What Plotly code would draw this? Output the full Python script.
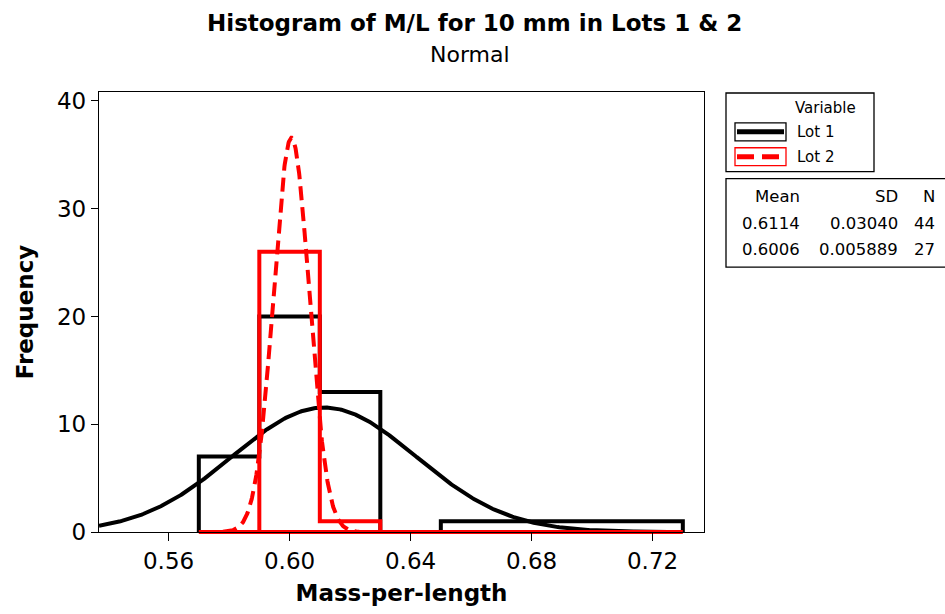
import numpy as np
import plotly.graph_objects as go

# ---------------- data ----------------
bin_edges = [0.57, 0.59, 0.61, 0.63, 0.65, 0.67, 0.69, 0.71, 0.73]
lot1_counts = [7, 20, 13, 0, 1, 1, 1, 1]
lot2_counts = [0, 26, 1, 0, 0, 0, 0, 0]
lot_names = ["Lot 1", "Lot 2"]
lot_means = [0.6114, 0.6006]
lot_sds = [0.03040, 0.005889]
lot_ns = [44, 27]
mean_labels = ["0.6114", "0.6006"]
sd_labels = ["0.03040", "0.005889"]
n_labels = ["44", "27"]
curve_ranges = [(0.537, 0.725), (0.578, 0.623)]
x_ticks = [0.56, 0.60, 0.64, 0.68, 0.72]
y_ticks = [0, 10, 20, 30, 40]

# ---------------- layout constants ----------------
W, H = 945, 614
L, R, T, B = 99, 704, 92, 534   # plot area in pixels
colors = ["#000000", "#FF0000"]
dashes = ["solid", "14px,7px"]
FONT = "DejaVu Sans"


def px(x):
    return (x - L) / (R - L)


def py(y):
    return (B - y) / (B - T)


bw = bin_edges[1] - bin_edges[0]


def outline(edges, counts):
    # closed step outline of a histogram (envelope + baseline)
    xs = [edges[0]] + list(edges) + [edges[0]]
    ys = [0] + list(counts) + [0, 0]
    return xs, ys


def normal_curve(mean, sd, n, lo, hi):
    xs = np.linspace(lo, hi, 400)
    ys = n * bw * np.exp(-0.5 * ((xs - mean) / sd) ** 2) / (sd * np.sqrt(2 * np.pi))
    return xs, ys


fig = go.Figure()
counts_all = [lot1_counts, lot2_counts]
for i in range(2):
    hx, hy = outline(bin_edges, counts_all[i])
    fig.add_trace(go.Scatter(
        x=hx, y=hy, mode="lines", line=dict(color=colors[i], width=4, shape="hv"),
        cliponaxis=False, showlegend=False, name=lot_names[i]))
    xs, ys = normal_curve(lot_means[i], lot_sds[i], lot_ns[i], *curve_ranges[i])
    fig.add_trace(go.Scatter(
        x=xs, y=ys, mode="lines",
        line=dict(color=colors[i], width=4, dash=dashes[i]),
        showlegend=False, name=lot_names[i]))

shapes = []
annotations = []
# histogram baseline (full stroke, not clipped vertically)
shapes.append(dict(type="line", xref="x", yref="paper", layer="below",
                   x0=bin_edges[0], x1=bin_edges[-1], y0=0, y1=0,
                   line=dict(color=colors[1], width=4)))
# legend box
shapes.append(dict(type="rect", xref="paper", yref="paper",
                   x0=px(726), x1=px(874), y0=py(172), y1=py(93),
                   line=dict(color="black", width=1.3), fillcolor="white"))
annotations.append(dict(xref="paper", yref="paper", x=px(826), y=py(108),
                        text="Variable", showarrow=False, xanchor="center", yanchor="middle",
                        font=dict(family=FONT, size=15, color="black")))
sym_y = [132, 157]
for i in range(2):
    shapes.append(dict(type="rect", xref="paper", yref="paper",
                       x0=px(735), x1=px(786), y0=py(sym_y[i] + 9), y1=py(sym_y[i] - 9),
                       line=dict(color=colors[i], width=1.3), fillcolor="white"))
    shapes.append(dict(type="line", xref="paper", yref="paper",
                       x0=px(737), x1=px(784), y0=py(sym_y[i]), y1=py(sym_y[i]),
                       line=dict(color=colors[i], width=5,
                                 dash="solid" if i == 0 else "17px,8px")))
    annotations.append(dict(xref="paper", yref="paper", x=px(795), y=py(sym_y[i]),
                            text=lot_names[i], showarrow=False, xanchor="left", yanchor="middle",
                            font=dict(family=FONT, size=15, color="black")))

# stats box
shapes.append(dict(type="rect", xref="paper", yref="paper",
                   x0=px(726), x1=px(960), y0=py(268), y1=py(179),
                   line=dict(color="black", width=1.3), fillcolor="white"))
col_x = [802, 900, 937]
headers = ["Mean", "SD", "N"]
row_y = [197, 224, 250]
for c in range(3):
    annotations.append(dict(xref="paper", yref="paper", x=px(col_x[c]), y=py(row_y[0]),
                            text=headers[c], showarrow=False, xanchor="right", yanchor="middle",
                            font=dict(family=FONT, size=16.5, color="black")))
cols = [mean_labels, sd_labels, n_labels]
for r in range(2):
    for c in range(3):
        annotations.append(dict(xref="paper", yref="paper", x=px(col_x[c]), y=py(row_y[r + 1]),
                                text=cols[c][r], showarrow=False, xanchor="right", yanchor="middle",
                                font=dict(family=FONT, size=16.5, color="black")))

# titles
annotations.append(dict(xref="paper", yref="paper", x=px(474), y=py(23),
                        text="<b>Histogram of M/L for 10 mm in Lots 1 &amp; 2</b>",
                        showarrow=False, xanchor="center", yanchor="middle",
                        font=dict(family=FONT, size=23, color="black")))
annotations.append(dict(xref="paper", yref="paper", x=px(470), y=py(54),
                        text="Normal", showarrow=False, xanchor="center", yanchor="middle",
                        font=dict(family=FONT, size=22, color="black")))

fig.update_layout(
    width=W, height=H, autosize=False,
    margin=dict(l=L, r=W - R, t=T, b=H - B, pad=0),
    paper_bgcolor="white", plot_bgcolor="white",
    showlegend=False,
    shapes=shapes, annotations=annotations,
    font=dict(family=FONT, color="black"),
    xaxis=dict(range=[0.537, 0.737], tickvals=x_ticks, ticktext=[f"{v:.2f}" for v in x_ticks],
               ticks="outside", ticklen=8, tickwidth=1.3, tickcolor="black",
               showline=True, linecolor="black", linewidth=1.3, mirror=True,
               showgrid=False, zeroline=False,
               tickfont=dict(family=FONT, size=23, color="black"),
               title=dict(text="<b>Mass-per-length</b>", standoff=12,
                          font=dict(family=FONT, size=23, color="black"))),
    yaxis=dict(range=[0, 40.83], tickvals=y_ticks,
               ticks="outside", ticklen=7, tickwidth=1.3, tickcolor="black",
               showline=True, linecolor="black", linewidth=1.3, mirror=True,
               showgrid=False, zeroline=False,
               tickfont=dict(family=FONT, size=23, color="black"),
               title=dict(text="<b>Frequency</b>", standoff=16,
                          font=dict(family=FONT, size=23, color="black"))),
)

fig.write_html("out.html")
